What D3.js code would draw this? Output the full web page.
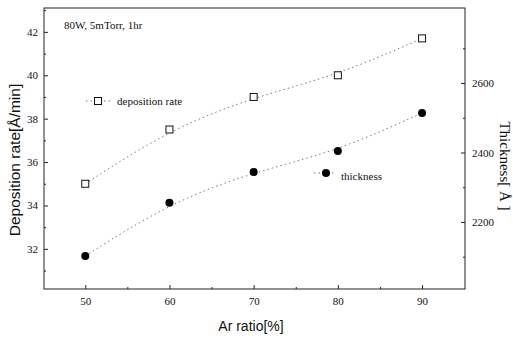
<!DOCTYPE html>
<html>
<head>
<meta charset="utf-8">
<script src="https://cdn.jsdelivr.net/npm/d3@7"></script>
<style>
	body { margin: 0; background: #fff; }
	text { font-family: "Liberation Serif", serif; fill: #111; }
	.sans { font-family: "Liberation Sans", Arial, sans-serif; }
</style>
</head>
<body>
<div id="chart"></div>
<script>
// values
const arRatio = [50, 60, 70, 80, 90];
const depositionRate = [35.0, 37.5, 39.0, 40.0, 41.7];
const thickness = [2102, 2255, 2344, 2404, 2514];
const xTicks = [50, 60, 70, 80, 90];
const leftTicks = [32, 34, 36, 38, 40, 42];
const rightTicks = [2200, 2400, 2600];

const width = 513, height = 339;
const m = { left: 44, right: 465, top: 8, bottom: 289 };

const svg = d3.select('#chart').append('svg')
	.attr('width', width)
	.attr('height', height);

const x = d3.scaleLinear().domain([45.1, 95.1]).range([m.left, m.right]);
const yL = d3.scaleLinear().domain([30.15, 43.1]).range([m.bottom, m.top]);
const yR = d3.scaleLinear().domain([2007, 2816]).range([m.bottom, m.top]);

// frame
svg.append('rect')
	.attr('x', m.left).attr('y', m.top)
	.attr('width', m.right - m.left).attr('height', m.bottom - m.top)
	.attr('fill', 'none').attr('stroke', '#222').attr('stroke-width', 1);

// axes, ticks pointing inward
svg.append('g')
	.attr('transform', 'translate(0,' + m.bottom + ')')
	.call(d3.axisBottom(x).tickValues(xTicks).tickSize(-4).tickPadding(8));
svg.append('g')
	.attr('transform', 'translate(0,' + m.bottom + ')')
	.call(d3.axisBottom(x).tickValues([55, 65, 75, 85]).tickSize(-2).tickFormat(''));

svg.append('g')
	.attr('transform', 'translate(' + m.left + ',0)')
	.call(d3.axisLeft(yL).tickValues(leftTicks).tickSize(-4).tickPadding(6));
svg.append('g')
	.attr('transform', 'translate(' + m.left + ',0)')
	.call(d3.axisLeft(yL).tickValues([31, 33, 35, 37, 39, 41, 43]).tickSize(-2).tickFormat(''));

svg.append('g')
	.attr('transform', 'translate(' + m.right + ',0)')
	.call(d3.axisRight(yR).tickValues(rightTicks).tickSize(-4).tickPadding(7).tickFormat(d3.format('d')));
svg.append('g')
	.attr('transform', 'translate(' + m.right + ',0)')
	.call(d3.axisRight(yR).tickValues([2100, 2300, 2500, 2700]).tickSize(-2).tickFormat(''));

svg.selectAll('.domain').remove();
svg.selectAll('.tick line').attr('stroke', '#222');
svg.selectAll('.tick text')
	.style('font-family', '"Liberation Serif", serif')
	.style('font-size', '11px')
	.attr('fill', '#111');

// smoothed trend lines (dotted)
const lineL = d3.line()
	.x((d, i) => x(arRatio[i]))
	.y(d => yL(d))
	.curve(d3.curveBasis);
const lineR = d3.line()
	.x((d, i) => x(arRatio[i]))
	.y(d => yR(d))
	.curve(d3.curveBasis);

svg.append('path')
	.attr('d', lineL(depositionRate))
	.attr('fill', 'none')
	.attr('stroke', '#555')
	.attr('stroke-width', 0.8)
	.attr('stroke-dasharray', '1.5,3');

svg.append('path')
	.attr('d', lineR(thickness))
	.attr('fill', 'none')
	.attr('stroke', '#555')
	.attr('stroke-width', 0.8)
	.attr('stroke-dasharray', '1.5,3');

// markers
svg.selectAll('.sq')
	.data(depositionRate)
	.enter()
	.append('rect')
	.attr('class', 'sq')
	.attr('x', (d, i) => x(arRatio[i]) - 3.5)
	.attr('y', d => yL(d) - 3.5)
	.attr('width', 7).attr('height', 7)
	.attr('fill', '#fff')
	.attr('stroke', '#111')
	.attr('stroke-width', 1);

svg.selectAll('.dot')
	.data(thickness)
	.enter()
	.append('circle')
	.attr('class', 'dot')
	.attr('cx', (d, i) => x(arRatio[i]))
	.attr('cy', d => yR(d))
	.attr('r', 4)
	.attr('fill', '#000');

// legend
let lg = svg.append('g');
lg.append('line')
	.attr('x1', 86).attr('x2', 110).attr('y1', 101).attr('y2', 101)
	.attr('stroke', '#555').attr('stroke-width', 0.8).attr('stroke-dasharray', '1.5,3');
lg.append('rect')
	.attr('x', 94.5).attr('y', 97.5).attr('width', 7).attr('height', 7)
	.attr('fill', '#fff').attr('stroke', '#111');
lg.append('text')
	.attr('x', 117).attr('y', 105)
	.style('font-size', '11px')
	.text('deposition rate');

lg.append('line')
	.attr('x1', 314).attr('x2', 334).attr('y1', 173).attr('y2', 173)
	.attr('stroke', '#555').attr('stroke-width', 0.8).attr('stroke-dasharray', '1.5,3');
lg.append('circle')
	.attr('cx', 326).attr('cy', 173).attr('r', 4).attr('fill', '#000');
lg.append('text')
	.attr('x', 341).attr('y', 180)
	.style('font-size', '11px')
	.text('thickness');

// annotation
svg.append('text')
	.attr('x', 64).attr('y', 29)
	.style('font-size', '11px')
	.text('80W, 5mTorr, 1hr');

// axis titles
svg.append('text')
	.attr('class', 'sans')
	.attr('x', 251).attr('y', 331)
	.attr('text-anchor', 'middle')
	.style('font-size', '14px')
	.text('Ar ratio[%]');

svg.append('text')
	.attr('class', 'sans')
	.attr('transform', 'translate(20,160) rotate(-90)')
	.attr('text-anchor', 'middle')
	.style('font-size', '15.5px')
	.text('Deposition rate[Å/min]');

svg.append('text')
	.attr('transform', 'translate(500,166) rotate(90)')
	.attr('text-anchor', 'middle')
	.style('font-size', '15px')
	.text('Thickness[ Å ]');
</script>
</body>
</html>
